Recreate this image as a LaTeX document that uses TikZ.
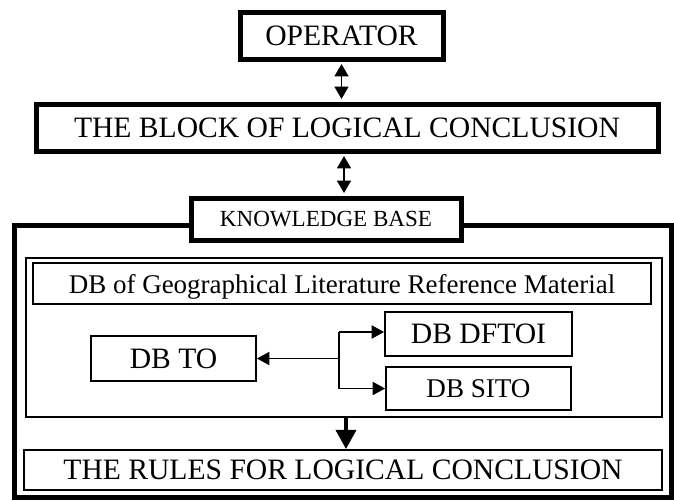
\documentclass[tikz,border=0pt]{standalone}
\usepackage{fontspec}
\setmainfont{Liberation Serif}
\usetikzlibrary{arrows.meta}
\begin{document}
\begin{tikzpicture}[x=0.75pt,y=-0.75pt,
  thickbox/.style={draw, line width=3.75pt, fill=white, inner sep=0pt, text depth=0pt},
  thinbox/.style={draw, line width=1.3pt, fill=white, inner sep=0pt, text depth=0pt},
  dbl/.style={line width=1.2pt, {Triangle[length=9.3pt,width=10.5pt]}-{Triangle[length=9.3pt,width=10.5pt]}, shorten <=1.9pt, shorten >=1.9pt},
  arr/.style={line width=1.2pt, -{Triangle[length=9.3pt,width=9.75pt]}},
  bigarr/.style={line width=3pt, -{Triangle[length=14.5pt,width=15pt]}},
  fbig/.style={font=\fontsize{22.2}{26}\selectfont},
  fmid/.style={font=\fontsize{20.25}{24}\selectfont},
  fsito/.style={font=\fontsize{20.3}{24}\selectfont},
  fkb/.style={font=\fontsize{17.3}{20}\selectfont}
]
\useasboundingbox (0,0) rectangle (674,500);

% outer knowledge-base frame
\node[thickbox, fill=none, minimum width=492.75pt, minimum height=204pt] (outer) at (342.5,361) {};
\node[thinbox, minimum width=477pt, minimum height=119.25pt] (inner) at (344,337.5) {};

% top boxes
\node[thickbox, fbig, minimum width=152.25pt, minimum height=35.25pt] (op) at (341.5,35.5) {OPERATOR};
\node[thickbox, fbig, minimum width=466.5pt, minimum height=35.25pt] (blk) at (347,127.5) {THE BLOCK OF LOGICAL CONCLUSION};
\node[thickbox, fkb, minimum width=202.5pt, minimum height=31.5pt] (kb) at (326,219) {KNOWLEDGE BASE};

% inner boxes
\node[thinbox, fmid, minimum width=463.5pt, minimum height=30.75pt] (geo) at (342,283.5) {DB of Geographical Literature Reference Material};
\node[thinbox, fbig, minimum width=123.75pt, minimum height=33.75pt] (dbto) at (173.5,358.5) {DB TO};
\node[thinbox, fbig, minimum width=140.25pt, minimum height=33pt] (dft) at (478.5,334) {DB DFTOI};
\node[thinbox, fsito, minimum width=138.75pt, minimum height=32.25pt] (sito) at (478.5,388.5) {DB SITO};
\node[thinbox, fbig, minimum width=478.5pt, minimum height=30pt] (rules) at (343,470) {THE RULES FOR LOGICAL CONCLUSION};

% connectors
\draw[dbl] (op.south) -- (op.south |- blk.north);
\coordinate (a2) at ([xshift=-2.25pt]blk.south);
\draw[dbl] (a2) -- (a2 |- kb.north);

\coordinate (j) at (339,358.5);
\coordinate (jt) at (339,332);
\coordinate (jb) at (339,388.5);
\draw[line width=1.2pt] (jt) -- (jb);
\draw[arr] (j) -- (dbto.east);
\draw[arr] (jt) -- (jt -| dft.west);
\draw[arr] (jb) -- (jb -| sito.west);

\coordinate (b1) at ([xshift=1.5pt]inner.south);
\draw[bigarr] (b1) -- (b1 |- rules.north);
\end{tikzpicture}
\end{document}
